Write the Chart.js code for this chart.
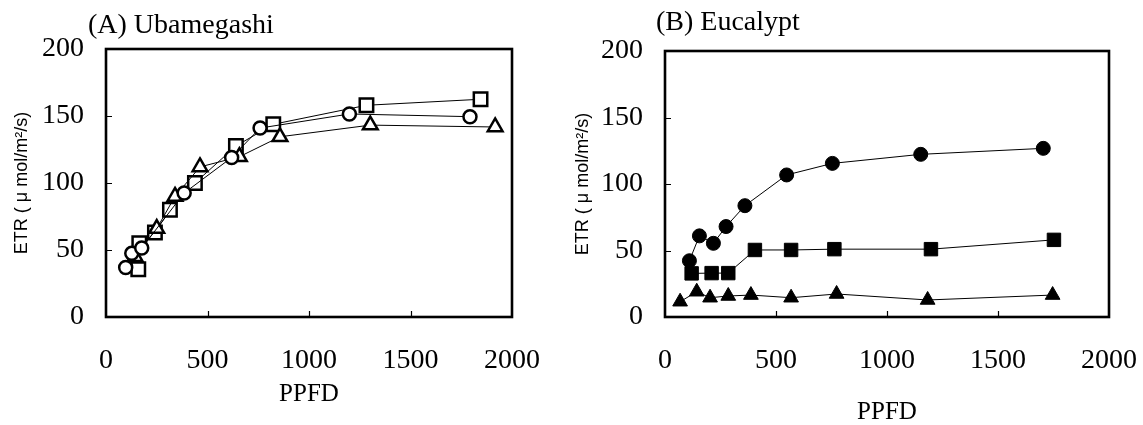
<!DOCTYPE html>
<html>
<head>
<meta charset="utf-8">
<script src="https://cdn.jsdelivr.net/npm/chart.js@4/dist/chart.umd.min.js"></script>
<style>
  html, body { margin: 0; padding: 0; background: #fff; }
  body { width: 1143px; height: 425px; position: relative; overflow: hidden; }
  .panel { position: absolute; top: 0; height: 425px; }
  .ptitle { position: absolute; font-family: 'Liberation Serif', 'Times New Roman', serif; font-size: 28px; line-height: 28px; color: #000; white-space: nowrap; }
</style>
</head>
<body>
<div class="panel" style="left:0;width:560px"><canvas id="cA" width="560" height="425"></canvas></div>
<div class="panel" style="left:560px;width:583px"><canvas id="cB" width="583" height="425"></canvas></div>
<div class="ptitle" style="left:88px;top:10px">(A) Ubamegashi</div>
<div class="ptitle" style="left:656px;top:7px">(B) Eucalypt</div>
<script>
// ---- Data ----
const panelTitles = ['(A) Ubamegashi', '(B) Eucalypt'];
const xTitle = 'PPFD';
const yTitle = 'ETR ( \u03bc mol/m\u00b2/s)';
const xTicks = [0, 500, 1000, 1500, 2000];
const yTicks = [0, 50, 100, 150, 200];

// Panel A (open markers)
const aCircleX = [97, 127, 176, 385, 619, 759, 1199, 1793];
const aCircleY = [37, 47.5, 51.5, 92.5, 119, 141, 151.5, 149.5];
const aSquareX = [159, 164, 241, 315, 438, 640, 824, 1283, 1845];
const aSquareY = [35.6, 55, 63, 80, 100, 127.6, 143.8, 158, 162.5];
const aTriX = [143, 250, 340, 463, 657, 857, 1302, 1917];
const aTriY = [45, 66, 90, 112, 119.6, 134.5, 143.2, 141.8];

// Panel B (filled markers)
const bCircleX = [110, 155, 218, 275, 360, 548, 754, 1152, 1704];
const bCircleY = [42.3, 61, 55.4, 68, 83.7, 106.8, 115.5, 122.3, 126.8];
const bSquareX = [120, 210, 285, 405, 568, 763, 1198, 1752];
const bSquareY = [32.8, 33, 33, 50.4, 50.4, 51, 51, 58];
const bTriX = [68, 143, 203, 285, 387, 568, 773, 1183, 1746];
const bTriY = [11.5, 19, 14.5, 15.8, 16.5, 14.5, 17.3, 12.8, 16.5];

function pts(xs, ys) { return xs.map((x, i) => ({ x: x, y: ys[i] })); }

const boxPlugin = {
  id: 'boxTicks',
  afterDraw(chart) {
    const { ctx, chartArea: a, scales } = chart;
    ctx.save();
    ctx.strokeStyle = '#000';
    ctx.lineWidth = 1.2;
    ctx.beginPath();
    xTicks.slice(1, -1).forEach(v => {
      const px = Math.round(scales.x.getPixelForValue(v)) + 0.5;
      ctx.moveTo(px, a.bottom); ctx.lineTo(px, a.bottom - 6);
    });
    yTicks.slice(1, -1).forEach(v => {
      const py = Math.round(scales.y.getPixelForValue(v)) + 0.5;
      ctx.moveTo(a.left, py); ctx.lineTo(a.left + 6, py);
    });
    ctx.stroke();
    ctx.lineWidth = 2.6;
    ctx.strokeRect(a.left, a.top, a.right - a.left, a.bottom - a.top);
    ctx.restore();
  }
};

function ds(data, style, radius, filled) {
  return {
    data: data,
    showLine: true,
    borderColor: '#000',
    borderWidth: 1,
    pointStyle: style,
    pointRadius: radius,
    pointBorderWidth: filled ? 1 : 2.5,
    pointBorderColor: '#000',
    pointBackgroundColor: filled ? '#000' : '#fff',
    clip: false
  };
}

function makeChart(id, datasets, geom) {
  return new Chart(document.getElementById(id), {
    type: 'scatter',
    data: { datasets: datasets },
    plugins: [boxPlugin],
    options: {
      responsive: false,
      devicePixelRatio: 1,
      animation: false,
      layout: { padding: { left: 0, top: geom.top, right: geom.right, bottom: 0 } },
      plugins: { legend: { display: false }, tooltip: { enabled: false } },
      scales: {
        x: {
          type: 'linear', min: 0, max: 2000,
          afterBuildTicks: s => { s.ticks = xTicks.map(v => ({ value: v })); },
          afterFit: s => { s.height = 425 - geom.bottom; s.paddingLeft = 0; s.paddingRight = 0; },
          grid: { display: false, drawTicks: false },
          border: { display: false },
          ticks: { color: '#000', padding: geom.xPad, font: { family: 'Liberation Serif', size: 28 }, maxRotation: 0, callback: v => String(v) },
          title: { display: true, text: xTitle, color: '#000', font: { family: 'Liberation Serif', size: 25, lineHeight: 1 }, padding: { top: 0, bottom: geom.xTitlePad } }
        },
        y: {
          type: 'linear', min: 0, max: 200,
          afterBuildTicks: s => { s.ticks = yTicks.map(v => ({ value: v })); },
          afterFit: s => { s.width = geom.left; s.paddingTop = 0; s.paddingBottom = 0; },
          grid: { display: false, drawTicks: false },
          border: { display: false },
          ticks: { color: '#000', padding: 22, font: { family: 'Liberation Serif', size: 28 }, callback: v => String(v) },
          title: { display: true, text: yTitle, color: '#000', font: { family: 'Liberation Sans', size: 18, lineHeight: 1.2 }, padding: { top: geom.yTitlePad, bottom: 0 } }
        }
      }
    }
  });
}

makeChart('cA', [
  ds(pts(aCircleX, aCircleY), 'circle', 6.5, false),
  ds(pts(aTriX, aTriY), 'triangle', 8.5, false),
  ds(pts(aSquareX, aSquareY), 'rect', 9.5, false)
], { left: 106, right: 48, top: 49, bottom: 317, xPad: 27, xTitlePad: 18, yTitlePad: 11 });

makeChart('cB', [
  ds(pts(bCircleX, bCircleY), 'circle', 7, true),
  ds(pts(bSquareX, bSquareY), 'rect', 9.5, true),
  ds(pts(bTriX, bTriY), 'triangle', 8.5, true)
], { left: 105, right: 34, top: 51, bottom: 317, xPad: 27, xTitlePad: 0, yTitlePad: 12 });
</script>
</body>
</html>
